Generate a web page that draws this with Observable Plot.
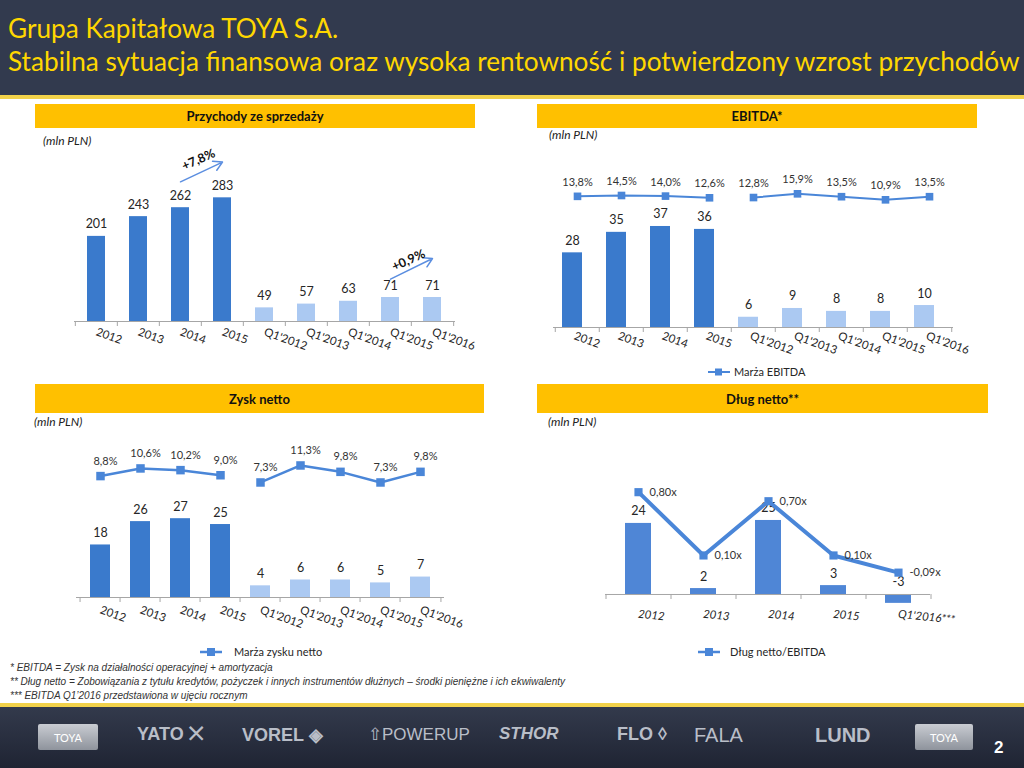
<!DOCTYPE html>
<html><head><meta charset="utf-8">
<script src="https://cdn.jsdelivr.net/npm/d3@7"></script>
<script src="https://cdn.jsdelivr.net/npm/@observablehq/plot@0.6"></script>
<style>
body{margin:0;width:1024px;height:768px;position:relative;overflow:hidden;background:#fff;font-family:Lato,"Open Sans",sans-serif;color:#262626}
.abs{position:absolute}
#hdr{left:0;top:0;width:1024px;height:95px;background:#323a4e}
#hdrline{left:0;top:95px;width:1024px;height:4px;background:#f2d24a}
.title{left:8px;color:#ffd700;font-size:25px;white-space:nowrap;line-height:1}
.bar{background:#ffc000;font-weight:bold;font-size:13px;color:#111;display:flex;align-items:center;justify-content:center}
.unit{font-style:italic;font-size:12px;color:#222;white-space:nowrap}
.legend{font-size:11px;color:#262626;display:flex;align-items:center;white-space:nowrap}
.note{left:10px;font-family:"Liberation Sans",Arial,sans-serif;font-style:italic;font-size:10px;color:#333;white-space:nowrap}
#foot{left:0;top:707px;width:1024px;height:61px;background:linear-gradient(#333a4c,#1f2433)}
#footline{left:0;top:703px;width:1024px;height:4px;background:#f2d24a}
.logo{top:724px;font-family:"Liberation Sans",Arial,sans-serif;font-weight:bold;font-size:18px;color:#b9bec8;white-space:nowrap}
.box{background:linear-gradient(#c9ccd2,#8e939c);color:#fff;font-size:11px;display:flex;align-items:center;justify-content:center;height:26px;border-radius:2px}
</style></head><body>
<script>
// ---------- DATA ----------
const annualCats = ["2012", "2013", "2014", "2015"];
const quarterCats = ["Q1'2012", "Q1'2013", "Q1'2014", "Q1'2015", "Q1'2016"];
const periodCats = [...annualCats, ...quarterCats];

const revenue = [201, 243, 262, 283, 49, 57, 63, 71, 71];
const ebitda = [28, 35, 37, 36, 6, 9, 8, 8, 10];
const ebitdaMargin = [13.8, 14.5, 14.0, 12.6, 12.8, 15.9, 13.5, 10.9, 13.5];
const netProfit = [18, 26, 27, 25, 4, 6, 6, 5, 7];
const netMargin = [8.8, 10.6, 10.2, 9.0, 7.3, 11.3, 9.8, 7.3, 9.8];

const debtCats = ["2012", "2013", "2014", "2015", "Q1'2016***"];
const netDebt = [24, 2, 25, 3, -3];
const debtToEbitda = [0.80, 0.10, 0.70, 0.10, -0.09];

const revenueGrowth = [{from: "2014", to: "2015", text: "+7,8%"}, {from: "Q1'2015", to: "Q1'2016", text: "+0,9%"}];
</script>

<div id="hdr" class="abs"></div>
<div id="hdrline" class="abs"></div>
<div id="t1" class="abs title" style="top:15px">Grupa Kapitałowa TOYA S.A.</div>
<div id="t2" class="abs title" style="top:48px">Stabilna sytuacja finansowa oraz wysoka rentowność i potwierdzony wzrost przychodów</div>

<div class="abs bar" style="left:35px;top:104px;width:440px;height:24px">Przychody ze sprzedaży</div>
<div class="abs bar" style="left:537px;top:104px;width:440px;height:24px">EBITDA*</div>
<div class="abs bar" style="left:35px;top:384px;width:449px;height:29px">Zysk netto</div>
<div class="abs bar" style="left:537px;top:384px;width:451px;height:29px">Dług netto**</div>

<div class="abs unit" style="left:43px;top:133px">(mln PLN)</div>
<div class="abs unit" style="left:549px;top:127px">(mln PLN)</div>
<div class="abs unit" style="left:34px;top:414px">(mln PLN)</div>
<div class="abs unit" style="left:548px;top:414px">(mln PLN)</div>

<div id="c1" class="abs" style="left:35px;top:140px"></div>
<div id="c2" class="abs" style="left:537px;top:140px"></div>
<div id="c2l" class="abs" style="left:537px;top:140px"></div>
<div id="c3" class="abs" style="left:35px;top:425px"></div>
<div id="c3l" class="abs" style="left:35px;top:425px"></div>
<div id="c4" class="abs" style="left:537px;top:425px"></div>
<div id="c4l" class="abs" style="left:537px;top:425px"></div>

<div class="abs legend" style="left:707px;top:365px"><svg width="24" height="10"><line x1="1" y1="5" x2="23" y2="5" stroke="#4a86d8" stroke-width="2"/><rect x="8" y="1.5" width="7" height="7" fill="#4a86d8"/></svg><span style="margin-left:3px">Marża EBITDA</span></div>
<div class="abs legend" style="left:199px;top:645px"><svg width="24" height="10"><line x1="1" y1="5" x2="23" y2="5" stroke="#4a86d8" stroke-width="2.5"/><rect x="8" y="1" width="8" height="8" fill="#4a86d8"/></svg><span style="margin-left:11px">Marża zysku netto</span></div>
<div class="abs legend" style="left:697px;top:645px"><svg width="24" height="10"><line x1="1" y1="5" x2="23" y2="5" stroke="#4a86d8" stroke-width="2.5"/><rect x="8" y="1" width="8" height="8" fill="#4a86d8"/></svg><span style="margin-left:9px">Dług netto/EBITDA</span></div>

<div class="abs note" style="top:662px">* EBITDA = Zysk na działalności operacyjnej + amortyzacja</div>
<div class="abs note" style="top:676px">** Dług netto = Zobowiązania z tytułu kredytów, pożyczek i innych instrumentów dłużnych – środki pieniężne i ich ekwiwalenty</div>
<div class="abs note" style="top:690px">*** EBITDA Q1’2016 przedstawiona w ujęciu rocznym</div>

<div id="footline" class="abs"></div>
<div id="foot" class="abs"></div>
<div class="abs box" style="left:38px;top:724px;width:60px">TOYA</div>
<div class="abs logo" style="left:137px">YATO ⨉</div>
<div class="abs logo" style="left:242px">VOREL ◈</div>
<div class="abs logo" style="left:368px;font-weight:normal;font-size:17px">⇧POWERUP</div>
<div class="abs logo" style="left:499px;font-style:italic;font-size:17px">STHOR</div>
<div class="abs logo" style="left:617px">FLO ◊</div>
<div class="abs logo" style="left:694px;font-weight:normal;font-size:20px">FALA</div>
<div class="abs logo" style="left:815px;font-size:20px">LUND</div>
<div class="abs box" style="left:915px;top:724px;width:58px">TOYA</div>
<div class="abs" style="left:994px;top:738px;color:#fff;font-weight:bold;font-size:17px;font-family:'Liberation Sans',Arial,sans-serif">2</div>

<script>
const FONT = "Lato, 'Open Sans', sans-serif";
const DARK = "#3a7acc", LIGHT = "#abc9f2", DEBT = "#4f86d6", LINE = "#4a86d8", AXIS = "#a6a6a6";
const pct = v => v.toFixed(1).replace(".", ",") + "%";
const mult = v => v.toFixed(2).replace(".", ",") + "x";

function fitWidth(id, target) {
  const el = document.getElementById(id);
  const w = el.getBoundingClientRect().width;
  const fs = parseFloat(getComputedStyle(el).fontSize);
  el.style.fontSize = (fs * target / w) + "px";
}
fitWidth("t2", 1012);
document.getElementById("t1").style.fontSize = document.getElementById("t2").style.fontSize;

function barChart(o) {
  const n = o.cats.length;
  const step = (o.width - o.ml - o.mr) / n;
  const ppu = (o.height - o.mt - o.mb) / (o.ydom[1] - o.ydom[0]);
  const tickLen = 5 / ppu;
  const data = o.cats.map((c, i) => ({c, v: o.values[i], i}));
  const marks = [
    Plot.barY(data, {x: "c", y1: d => o.base(d.v), y2: "v", fill: d => o.color(d), dx: o.dxBar || 0}),
    Plot.ruleY([o.axisAt], {stroke: AXIS}),
    Plot.ruleX(o.cats, {x: d => d, y1: o.axisAt, y2: o.axisAt - tickLen, dx: -step / 2, stroke: AXIS}),
    Plot.ruleX([o.cats[n - 1]], {x: d => d, y1: o.axisAt, y2: o.axisAt - tickLen, dx: step / 2, stroke: AXIS}),
    Plot.text(data, {x: "c", y: d => o.labelY ? o.labelY(d.v) : d.v, text: d => String(d.v), dy: -12, dx: o.dxBar || 0, fontSize: 12.5, fill: "#262626"}),
    Plot.axisX({tickSize: 0, tickRotate: o.rot, tickPadding: o.tp, fontSize: 11.5, fontStyle: o.italic ? "italic" : "normal", fill: "#262626", label: null, dx: o.tdx || 0, textAnchor: o.tanchor})
  ];
  if (o.extra) marks.push(...o.extra);
  return Plot.plot({
    width: o.width, height: o.height, marginLeft: o.ml, marginRight: o.mr, marginTop: o.mt, marginBottom: o.mb,
    style: {background: "transparent", overflow: "visible", fontFamily: FONT, color: "#262626"},
    x: {domain: o.cats, paddingInner: o.pad, paddingOuter: o.pad / 2},
    y: {domain: o.ydom, axis: null},
    marks
  });
}

function lineChart(o) {
  const data = o.cats.map((c, i) => ({c, m: o.values[i], g: o.group ? o.group(c) : "all"}));
  return Plot.plot({
    width: o.width, height: o.height, marginLeft: o.ml, marginRight: o.mr, marginTop: o.mt, marginBottom: o.mb,
    style: {background: "transparent", overflow: "visible", fontFamily: FONT},
    x: {domain: o.cats, paddingInner: o.pad, paddingOuter: o.pad / 2, axis: null},
    y: {domain: o.ydom, axis: null},
    marks: [
      Plot.line(data, {x: "c", y: "m", z: "g", stroke: LINE, strokeWidth: o.sw}),
      Plot.dot(data, {x: "c", y: "m", symbol: "square", r: o.r, fill: LINE, stroke: "none"}),
      Plot.text(data, {x: "c", y: "m", text: d => o.fmt(d.m), dy: o.ldy, dx: o.ldx, textAnchor: o.anchor || "middle", fontSize: 11, fill: "#333"})
    ]
  });
}

const isAnnual = c => annualCats.includes(c);
const groupOf = c => isAnnual(c) ? "rok" : "kwartał";

// Chart 1: Przychody
const c1floor = 20;
document.getElementById("c1").append(barChart({
  cats: periodCats, values: revenue, width: 440, height: 221, ml: 39, mr: 20, mt: 15, mb: 40,
  ydom: [c1floor, 373], base: () => c1floor, axisAt: c1floor, pad: 0.57, rot: 20, tp: 10,
  color: d => isAnnual(d.c) ? DARK : LIGHT,
  extra: [
    Plot.arrow(revenueGrowth, {x1: "from", x2: "to", y1: (d, i) => [317, 110][i], y2: (d, i) => [359, 154][i], stroke: "#5b8ee0", strokeWidth: 1.5, headLength: 10, bend: 0}),
    Plot.text(revenueGrowth, {x: "from", y: (d, i) => [364, 150][i], text: "text", dx: 18, rotate: -24, fontWeight: "bold", fontSize: 12.5, fill: "#111"})
  ]
}));

// Chart 2: EBITDA
const c2floor = 2.5;
const c2 = {cats: periodCats, width: 440, height: 227, ml: 16, mr: 24, mt: 10, pad: 0.55};
document.getElementById("c2").append(barChart({
  ...c2, values: ebitda, mb: 40, ydom: [c2floor, 62.95], base: () => c2floor, axisAt: c2floor,
  rot: 20, tp: 8, tdx: -3, dxBar: -5, color: d => isAnnual(d.c) ? DARK : LIGHT
}));
document.getElementById("c2l").append(lineChart({
  ...c2, values: ebitdaMargin, mb: 154.6, ydom: [0, 52], group: groupOf, sw: 2, r: 4.3,
  fmt: pct, ldy: -14, ldx: 0
}));

// Chart 3: Zysk netto
const c3 = {cats: periodCats, width: 440, height: 212, ml: 41, mr: 31, mt: 10, pad: 0.51};
document.getElementById("c3").append(barChart({
  ...c3, values: netProfit, mb: 40, ydom: [0, 55.5], base: () => 0, axisAt: 0,
  rot: 20, tp: 12, color: d => isAnnual(d.c) ? DARK : LIGHT
}));
document.getElementById("c3l").append(lineChart({
  ...c3, values: netMargin, mb: 124, ydom: [0, 18.35], group: groupOf, sw: 2.5, r: 4.8,
  fmt: pct, ldy: -15, ldx: 5
}));

// Chart 4: Dług netto
const c4 = {cats: debtCats, width: 440, height: 212, ml: 68, mr: 47, mt: 10, pad: 0.6};
document.getElementById("c4").append(barChart({
  ...c4, values: netDebt, mb: 32, ydom: [-3.72, 53.7], base: () => 0, axisAt: 0,
  labelY: v => Math.max(v, 0), rot: 6, tp: 4, tdx: 0, tanchor: "start", italic: true, color: () => DEBT
}));
document.getElementById("c4l").append(lineChart({
  ...c4, values: debtToEbitda, mb: 73, ydom: [0, 1.427], sw: 4, r: 4.6,
  fmt: mult, ldy: 0, ldx: 11, anchor: "start"
}));
</script>
</body></html>
